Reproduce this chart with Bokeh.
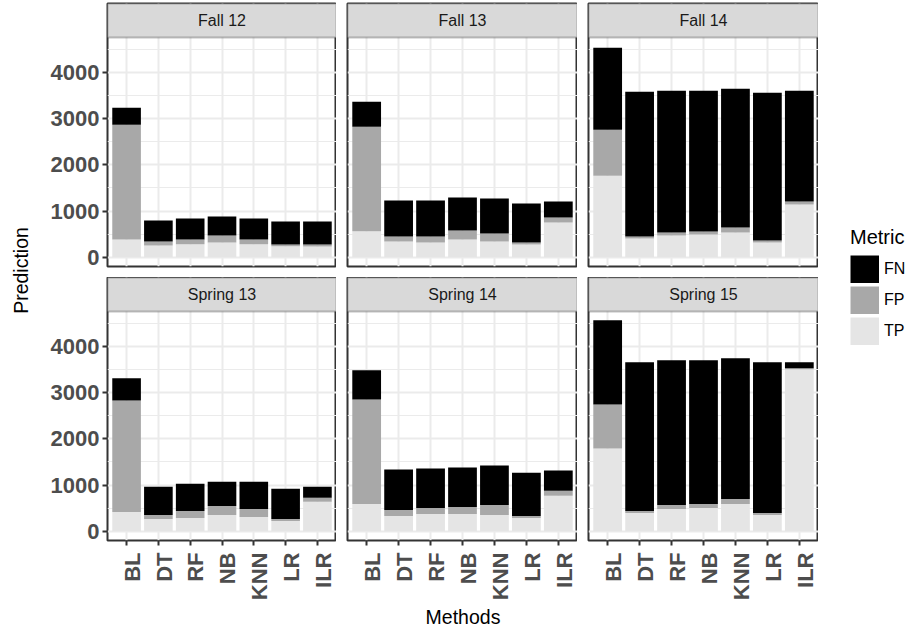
import math
from bokeh.plotting import figure
from bokeh.models import (ColumnDataSource, FactorRange, Range1d, FixedTicker,
                          BoxAnnotation, Label, Legend, LegendItem, LinearAxis,
                          CustomLabelingPolicy)
from bokeh.layouts import row, column
from bokeh.embed import file_html
from bokeh.resources import INLINE

# ---------------- data ----------------
methods = ["BL", "DT", "RF", "NB", "KNN", "LR", "ILR"]
terms = ["Fall 12", "Fall 13", "Fall 14", "Spring 13", "Spring 14", "Spring 15"]
metrics = ["FN", "FP", "TP"]

tp_fall12 = [383, 253, 281, 318, 281, 238, 231]
fp_fall12 = [2486, 86, 102, 151, 102, 36, 43]
fn_fall12 = [368, 454, 454, 411, 454, 498, 498]

tp_fall13 = [562, 339, 318, 383, 339, 274, 750]
fp_fall13 = [2264, 109, 130, 194, 173, 44, 108]
fn_fall13 = [540, 778, 778, 714, 757, 843, 346]

tp_fall14 = [1766, 404, 469, 491, 534, 318, 1139]
fp_fall14 = [995, 44, 65, 65, 108, 43, 65]
fn_fall14 = [1773, 3135, 3070, 3048, 3006, 3200, 2400]

tp_spring13 = [419, 267, 289, 354, 310, 224, 636]
fp_spring13 = [2412, 87, 151, 195, 174, 43, 87]
fn_spring13 = [477, 607, 586, 520, 585, 651, 238]

tp_spring14 = [592, 332, 375, 375, 354, 289, 766]
fp_spring14 = [2260, 130, 130, 152, 216, 43, 108]
fn_spring14 = [630, 872, 851, 850, 851, 933, 438]

tp_spring15 = [1790, 397, 484, 505, 592, 354, 3503]
fp_spring15 = [954, 43, 86, 87, 108, 43, 22]
fn_spring15 = [1822, 3215, 3128, 3106, 3042, 3258, 130]

y_ticks = [0, 1000, 2000, 3000, 4000]
y_minor = [500, 1500, 2500, 3500, 4500]

panel_data = {
    "Fall 12": (tp_fall12, fp_fall12, fn_fall12),
    "Fall 13": (tp_fall13, fp_fall13, fn_fall13),
    "Fall 14": (tp_fall14, fp_fall14, fn_fall14),
    "Spring 13": (tp_spring13, fp_spring13, fn_spring13),
    "Spring 14": (tp_spring14, fp_spring14, fn_spring14),
    "Spring 15": (tp_spring15, fp_spring15, fn_spring15),
}

# ---------------- style / layout ----------------
FONT = "Liberation Sans"
colors = {"FN": "#000000", "FP": "#A8A8A8", "TP": "#E5E5E5"}
GRID = "#EBEBEB"
DARK = "#333333"
TICKLAB = "#4D4D4D"

Y0, Y1 = -200, 4755
TOP_PAD = 3
STRIP_H = 34
PANEL_H = 229
FRAME_W = [229, 230, 230]
PRED_W = 34
MB_LEFT = [73, 11, 11]
ROW_GAP = 11
AXIS_H = 64
METH_H = 24
LEG_W = 88
LABEL_SHIFT = 0.18   # rotated tick labels sit just right of their tick, as in the reference
TOTAL_H = TOP_PAD + (STRIP_H + PANEL_H + ROW_GAP) + (STRIP_H + PANEL_H + AXIS_H) + METH_H

NO_LABELS = CustomLabelingPolicy(code="""
    for (const i of indices) { indices.unset(i) }
    return indices
""")


def style_axis(ax):
    ax.axis_line_color = None
    ax.major_tick_line_color = DARK
    ax.major_tick_line_width = 2
    ax.major_tick_in = 0
    ax.major_tick_out = 5
    ax.minor_tick_line_color = None
    ax.major_label_text_font = FONT
    ax.major_label_text_font_style = "bold"
    ax.major_label_text_font_size = "22px"
    ax.major_label_text_color = TICKLAB


def make_panel(term, col, is_bottom):
    tp, fp, fn = panel_data[term]
    src = ColumnDataSource(dict(method=methods, TP=tp, FP=fp, FN=fn))
    ytop = Y1 + STRIP_H * (Y1 - Y0) / PANEL_H
    p = figure(x_range=FactorRange(factors=methods, range_padding=0.1,
                                   range_padding_units="absolute"),
               y_range=Range1d(Y0, ytop),
               frame_width=FRAME_W[col], frame_height=STRIP_H + PANEL_H,
               min_border_left=MB_LEFT[col], min_border_right=0,
               min_border_top=0 if is_bottom else TOP_PAD,
               min_border_bottom=AXIS_H if is_bottom else ROW_GAP,
               toolbar_location=None, output_backend="svg",
               background_fill_color="white", border_fill_color="white")
    p.vbar_stack(["TP", "FP", "FN"], x="method", width=0.9, source=src,
                 fill_color=[colors["TP"], colors["FP"], colors["FN"]],
                 line_color=None)

    p.outline_line_color = DARK
    p.outline_line_width = 2

    p.yaxis.ticker = FixedTicker(ticks=y_ticks, minor_ticks=y_minor)
    p.xgrid.grid_line_color = GRID
    p.xgrid.grid_line_width = 2
    p.ygrid.grid_line_color = GRID
    p.ygrid.grid_line_width = 2
    p.ygrid.minor_grid_line_color = GRID
    p.ygrid.minor_grid_line_width = 1.2

    for ax in p.axis:
        style_axis(ax)
    p.yaxis.major_label_standoff = 3

    if col != 0:
        p.yaxis.visible = False
    if not is_bottom:
        p.xaxis.visible = False
    else:
        # category axis: tick marks only (its labels are suppressed)
        p.xaxis.major_label_overrides = {m: "" for m in methods}
        p.xaxis.major_label_text_font_size = "0px"
        p.xaxis.major_label_standoff = 0
        p.xaxis.major_label_policy = NO_LABELS
        # label axis: method names, rotated, placed just right of each tick
        pos = [i + 0.5 + LABEL_SHIFT for i in range(len(methods))]
        lab = LinearAxis(ticker=FixedTicker(ticks=pos),
                         major_label_overrides={v: m for v, m in zip(pos, methods)})
        style_axis(lab)
        lab.major_tick_line_color = None
        lab.major_tick_out = 0
        lab.major_label_standoff = 7
        lab.major_label_orientation = math.pi / 2
        p.add_layout(lab, "below")

    strip = BoxAnnotation(bottom=Y1, fill_color="#D9D9D9", fill_alpha=1.0,
                          line_color=DARK, line_width=2)
    p.add_layout(strip)
    p.add_layout(Label(x=3.5, y=(Y1 + ytop) / 2, text=term,
                       text_font=FONT, text_font_size="16px",
                       text_color="#1A1A1A", text_align="center",
                       text_baseline="middle"))
    return p


top = [make_panel(terms[i], i, False) for i in range(3)]
bot = [make_panel(terms[3 + i], i, True) for i in range(3)]

# x-axis title
meth_w = sum(FRAME_W) + sum(MB_LEFT)
mf = figure(width=meth_w, height=METH_H, x_range=Range1d(0, meth_w),
            y_range=Range1d(0, METH_H), min_border=0, toolbar_location=None,
            output_backend="svg", outline_line_color=None,
            x_axis_location=None, y_axis_location=None)
mf.grid.visible = False
panels_center = MB_LEFT[0] + (sum(FRAME_W) + sum(MB_LEFT[1:])) / 2
mf.add_layout(Label(x=panels_center, y=METH_H / 2, text="Methods",
                    text_font=FONT, text_font_size="19.5px", text_color="black",
                    text_align="center", text_baseline="middle"))

# y-axis title
pf = figure(width=PRED_W, height=TOTAL_H, x_range=Range1d(0, PRED_W),
            y_range=Range1d(0, TOTAL_H), min_border=0, toolbar_location=None,
            output_backend="svg", outline_line_color=None,
            x_axis_location=None, y_axis_location=None)
pf.grid.visible = False
pf.add_layout(Label(x=20, y=TOTAL_H - 270, text="Prediction", angle=math.pi / 2,
                    text_font=FONT, text_font_size="19.5px", text_color="black",
                    text_align="center", text_baseline="middle"))

# legend (proxy renderers kept outside the visible range of the legend panel)
lf = figure(width=LEG_W, height=TOTAL_H, x_range=Range1d(0, 1), y_range=Range1d(0, 1),
            min_border=0, toolbar_location=None, output_backend="svg",
            outline_line_color=None, x_axis_location=None, y_axis_location=None)
lf.grid.visible = False
items = []
for m in metrics:
    r = lf.line(x=[-3, -2], y=[-3, -2], line_width=28, line_color=colors[m])
    items.append(LegendItem(label=m, renderers=[r]))
leg = Legend(items=items, title="Metric", location=(32, 283),
             orientation="vertical", glyph_width=29, glyph_height=28, spacing=3,
             label_standoff=5, padding=0, margin=0, border_line_color=None,
             background_fill_alpha=0, label_text_font=FONT,
             label_text_font_size="16px", label_text_color="black",
             title_text_font=FONT, title_text_font_size="20px",
             title_text_font_style="normal", title_text_color="black",
             title_standoff=6)
lf.add_layout(leg)

layout = row(pf, column(row(*top), row(*bot), mf), lf)

open("out.html", "w").write(file_html(layout, INLINE))
